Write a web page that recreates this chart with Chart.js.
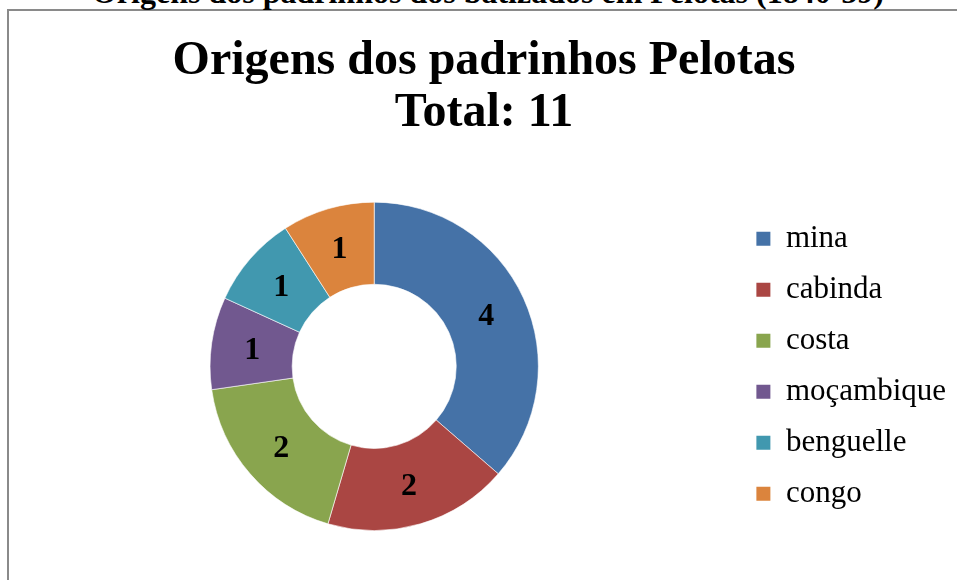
<!DOCTYPE html>
<html>
<head>
<meta charset="utf-8">
<script src="https://cdn.jsdelivr.net/npm/chart.js@4/dist/chart.umd.min.js"></script>
<style>
    html, body { margin: 0; padding: 0; background: #fff; overflow: hidden; }
    #frame {
        position: absolute; left: 7px; top: 9px;
        width: 2000px; height: 2000px;
        border: 2px solid #8a8a8a;
    }
    #heading {
        position: absolute; left: 0; top: -26px; width: 976px;
        font: bold 32px "Liberation Serif", serif; line-height: 36px;
        text-align: center; color: #000; white-space: nowrap;
    }
    #chartBox { position: absolute; left: 0; top: 0; width: 957px; height: 580px; }
</style>
</head>
<body>
<div id="frame"></div>
<div id="heading">Origens dos padrinhos dos batizados em Pelotas (1840-59)</div>
<div id="chartBox"><canvas id="originsChart" width="957" height="580"></canvas></div>
<script>
const origins = ["mina", "cabinda", "costa", "moçambique", "benguelle", "congo"];
const counts = [4, 2, 2, 1, 1, 1];
const sliceColors = ["#4572A7", "#AA4643", "#89A54E", "#71588F", "#4198AF", "#DB843D"];
const titleLines = ["Origens dos padrinhos Pelotas", "Total: 11"];

// numbers in the middle of each slice
const sliceLabels = {
    id: "sliceLabels",
    afterDatasetsDraw(chart) {
        const ctx = chart.ctx;
        const meta = chart.getDatasetMeta(0);
        ctx.save();
        ctx.font = 'bold 32px "Liberation Serif"';
        ctx.fillStyle = "#000";
        ctx.textAlign = "center";
        ctx.textBaseline = "middle";
        meta.data.forEach((arc, i) => {
            const p = arc.getCenterPoint();
            ctx.fillText(String(counts[i]), p.x, p.y + 2);
        });
        ctx.restore();
    }
};

new Chart(document.getElementById("originsChart").getContext("2d"), {
    type: "doughnut",
    data: {
        labels: origins,
        datasets: [{
            data: counts,
            backgroundColor: sliceColors,
            borderColor: "rgba(255,255,255,0.6)",
            borderWidth: 1,
            hoverOffset: 0
        }]
    },
    options: {
        responsive: false,
        animation: false,
        cutout: "50%",
        layout: {
            padding: { left: 12, right: 1, top: 0, bottom: 49 }
        },
        plugins: {
            title: {
                display: true,
                text: titleLines,
                color: "#000",
                font: { family: "Liberation Serif", size: 48, weight: "bold", lineHeight: 1.08 },
                padding: { top: 36, bottom: 62 }
            },
            legend: {
                position: "right",
                fullSize: false,
                labels: {
                    color: "#000",
                    font: { family: "Liberation Serif", size: 31 },
                    boxWidth: 14,
                    boxHeight: 14,
                    padding: 20,
                    generateLabels(chart) {
                        const base = Chart.overrides.doughnut.plugins.legend.labels.generateLabels(chart);
                        return base.map(item => Object.assign(item, { lineWidth: 0 }));
                    }
                }
            },
            tooltip: { enabled: false }
        }
    },
    plugins: [sliceLabels]
});
</script>
</body>
</html>
